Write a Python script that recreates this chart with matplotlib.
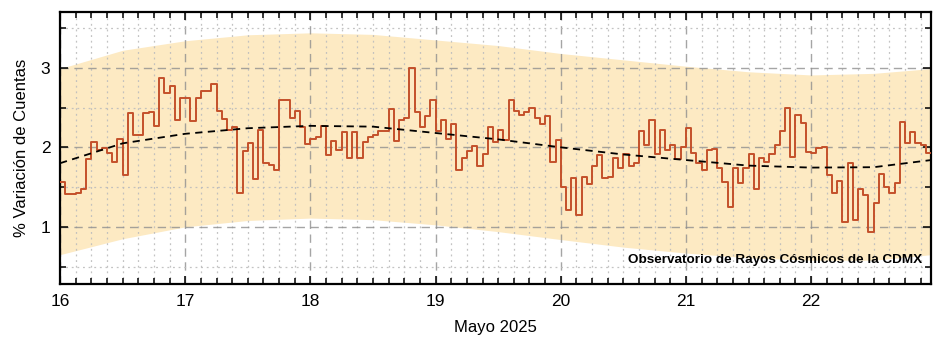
import numpy as np
import matplotlib
matplotlib.use("Agg")
import matplotlib.pyplot as plt
from matplotlib.ticker import MultipleLocator

plt.rcParams['font.family'] = ['Liberation Sans', 'DejaVu Sans']

# variacion horaria de cuentas (%), 16 al 22 de mayo 2025
variacion = [
    1.57, 1.41, 1.41, 1.43, 1.47, 1.85, 2.07, 1.97, 1.99, 1.93, 1.82, 2.10,
    1.65, 2.43, 2.16, 2.16, 2.43, 2.44, 2.27, 2.87, 2.68, 2.77, 2.34, 2.62,
    2.62, 2.33, 2.62, 2.71, 2.71, 2.79, 2.46, 2.35, 2.22, 2.25, 1.43, 1.95,
    2.05, 1.60, 2.22, 1.80, 1.78, 1.71, 2.60, 2.60, 2.37, 2.46, 2.26, 2.04,
    2.10, 2.13, 2.27, 1.90, 2.08, 1.96, 2.19, 1.87, 2.19, 1.87, 2.07, 2.13,
    2.15, 2.21, 2.20, 2.48, 2.08, 2.34, 2.37, 3.00, 2.44, 2.26, 2.39, 2.60,
    2.21, 2.34, 2.10, 2.29, 1.71, 1.87, 1.95, 2.02, 1.76, 1.92, 2.25, 2.07,
    2.22, 2.09, 2.60, 2.46, 2.41, 2.44, 2.50, 2.37, 2.29, 2.39, 1.81, 2.09,
    1.50, 1.21, 1.62, 1.15, 1.63, 1.54, 1.76, 1.90, 1.62, 1.63, 1.86, 1.74,
    1.92, 1.76, 1.80, 2.21, 2.03, 2.34, 1.92, 2.22, 1.96, 2.03, 1.85, 2.01,
    2.24, 1.93, 1.80, 1.71, 1.97, 1.98, 1.74, 1.57, 1.25, 1.74, 1.55, 1.74,
    1.92, 1.47, 1.86, 1.82, 1.92, 2.03, 2.20, 2.50, 1.88, 2.41, 2.30, 1.94,
    1.93, 1.99, 2.01, 1.65, 1.43, 1.58, 1.06, 1.80, 1.08, 1.48, 1.40, 0.93,
    1.30, 1.67, 1.50, 1.42, 1.55, 2.32, 2.06, 2.19, 2.05, 2.03, 1.93, 1.93,
]

# tendencia y banda (cada 12 horas)
dias_ajuste = [16.0, 16.5, 17.0, 17.5, 18.0, 18.5, 19.0, 19.5, 20.0, 20.5,
               21.0, 21.5, 22.0, 22.5, 22.96]
tendencia = [1.80, 2.05, 2.17, 2.24, 2.27, 2.26, 2.18, 2.10, 2.00, 1.91,
             1.84, 1.77, 1.745, 1.75, 1.84]
banda_sup = [2.99, 3.22, 3.34, 3.415, 3.44, 3.42, 3.35, 3.28, 3.18, 3.10,
             3.02, 2.95, 2.91, 2.93, 2.99]
banda_inf = [0.65, 0.85, 1.00, 1.08, 1.11, 1.09, 1.025, 0.94, 0.84, 0.745,
             0.67, 0.61, 0.58, 0.58, 0.65]

x = 16 + np.arange(len(variacion)) / 24.0

fig = plt.figure(figsize=(9.38, 3.37), dpi=100)
ax = fig.add_axes([0.064, 0.157, 0.9286, 0.807])

ax.fill_between(dias_ajuste, banda_inf, banda_sup, color='#fdeac3',
                linewidth=0, zorder=0.2)
ax.step(x, variacion, where='post', color='#c4502a', linewidth=1.4, zorder=3)
ax.plot(dias_ajuste, tendencia, color='black', linestyle=(0, (4, 3)),
        linewidth=1.3, zorder=4)

ax.set_xlim(16, x[-1])
ax.set_ylim(0.28, 3.70)

ax.xaxis.set_major_locator(MultipleLocator(1))
ax.xaxis.set_minor_locator(MultipleLocator(1 / 8))
ax.yaxis.set_major_locator(MultipleLocator(1))
ax.yaxis.set_minor_locator(MultipleLocator(0.5))
ax.set_axisbelow(True)
ax.grid(which='major', color='#8f8f8f', linestyle=(0, (6, 4)),
        linewidth=1.0, alpha=0.8)
ax.grid(which='minor', color='#bdbdbd', linestyle=(0, (1.5, 3)),
        linewidth=0.9, alpha=0.9)

ax.tick_params(which='both', direction='in', top=True, right=True,
               labelsize=12.5, width=1.1, pad=7)
ax.tick_params(which='major', length=6)
ax.tick_params(which='minor', length=4)
for s in ax.spines.values():
    s.set_linewidth(1.6)

ax.set_xticks([16, 17, 18, 19, 20, 21, 22])
ax.set_xticklabels(['16', '17', '18', '19', '20', '21', '22'])
ax.set_xlabel('Mayo 2025', fontsize=12, labelpad=8)
ax.set_ylabel('% Variación de Cuentas', fontsize=12, labelpad=8)

ax.text(0.99, 0.088, 'Observatorio de Rayos Cósmicos de la CDMX',
        transform=ax.transAxes, ha='right', va='center',
        fontsize=9.7, fontweight='bold', zorder=5)

fig.savefig('out.png', dpi=100)
